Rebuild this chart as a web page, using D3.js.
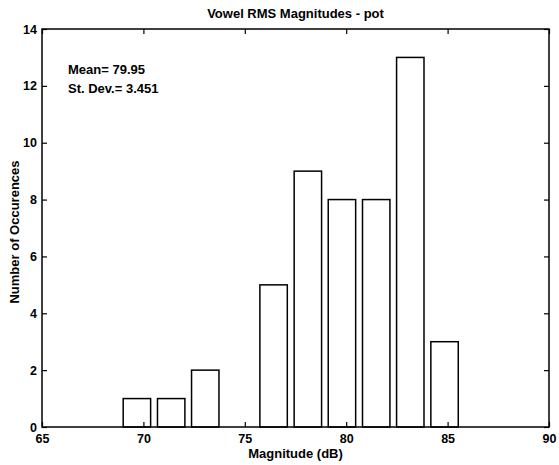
<!DOCTYPE html>
<html>
<head>
<meta charset="utf-8">
<script src="https://cdn.jsdelivr.net/npm/d3@7"></script>
<style>
  body { margin: 0; background: #fff; }
  svg text { font-family: "Liberation Sans", Arial, sans-serif; fill: #000; }
</style>
</head>
<body>
<div id="chart"></div>
<script>
// histogram of vowel RMS magnitudes (10 bins)
const binCenters = [69.68, 71.37, 73.05, 74.74, 76.42, 78.11, 79.79, 81.48, 83.16, 84.85];
const counts = [1, 1, 2, 0, 5, 9, 8, 8, 13, 3];
const xTicks = [65, 70, 75, 80, 85, 90];
const yTicks = [0, 2, 4, 6, 8, 10, 12, 14];
const statLines = ["Mean= 79.95", "St. Dev.= 3.451"];

const W = 559, H = 465;
const margin = { top: 29, right: 10, bottom: 38, left: 42 };
const width = W - margin.left - margin.right;
const height = H - margin.top - margin.bottom;

const svg = d3.select("#chart").append("svg")
    .attr("width", W)
    .attr("height", H);

const g = svg.append("g")
    .attr("transform", `translate(${margin.left},${margin.top})`);

const x = d3.scaleLinear().domain([65, 90]).range([0, width]);
const y = d3.scaleLinear().domain([0, 14]).range([height, 0]);

const binW = binCenters[1] - binCenters[0];
const barW = binW * 0.8;

// bars
g.append("g")
    .selectAll("rect")
    .data(counts.map((c, i) => ({ c, m: binCenters[i] })).filter(d => d.c > 0))
    .join("rect")
    .attr("x", d => x(d.m - barW / 2))
    .attr("y", d => y(d.c))
    .attr("width", d => x(d.m + barW / 2) - x(d.m - barW / 2))
    .attr("height", d => y(0) - y(d.c))
    .attr("fill", "none")
    .attr("stroke", "#000")
    .attr("stroke-width", 1.5);

// axes, ticks point inward like matlab
const tk = 5;
g.append("g")
    .attr("transform", `translate(0,${height})`)
    .call(d3.axisBottom(x).tickValues(xTicks).tickSize(-tk).tickPadding(7))
    .call(a => a.select(".domain").remove());
g.append("g")
    .call(d3.axisTop(x).tickValues(xTicks).tickSize(-tk).tickFormat(""))
    .call(a => a.select(".domain").remove());
g.append("g")
    .call(d3.axisLeft(y).tickValues(yTicks).tickSize(-tk).tickPadding(5))
    .call(a => a.select(".domain").remove());
g.append("g")
    .attr("transform", `translate(${width},0)`)
    .call(d3.axisRight(y).tickValues(yTicks).tickSize(-tk).tickFormat(""))
    .call(a => a.select(".domain").remove());

g.selectAll(".tick line").attr("stroke", "#000").attr("stroke-width", 1.2);
g.selectAll(".tick text")
    .style("font-size", "12.5px")
    .style("font-weight", "bold");

g.append("rect")
    .attr("width", width)
    .attr("height", height)
    .attr("fill", "none")
    .attr("stroke", "#000")
    .attr("stroke-width", 1.5);

// title and labels
svg.append("text")
    .attr("x", margin.left + width / 2)
    .attr("y", 18)
    .attr("text-anchor", "middle")
    .style("font-size", "13px")
    .style("font-weight", "bold")
    .text("Vowel RMS Magnitudes - pot");

svg.append("text")
    .attr("x", margin.left + width / 2)
    .attr("y", 458)
    .attr("text-anchor", "middle")
    .style("font-size", "13px")
    .style("font-weight", "bold")
    .text("Magnitude (dB)");

svg.append("text")
    .attr("transform", `translate(19,${margin.top + height / 2 + 4}) rotate(-90)`)
    .attr("text-anchor", "middle")
    .style("font-size", "13px")
    .style("font-weight", "bold")
    .text("Number of Occurences");

g.selectAll(".stat")
    .data(statLines)
    .join("text")
    .attr("class", "stat")
    .attr("x", 26)
    .attr("y", (d, i) => 45 + i * 19)
    .style("font-size", "13px")
    .style("font-weight", "bold")
    .text(d => d);
</script>
</body>
</html>
